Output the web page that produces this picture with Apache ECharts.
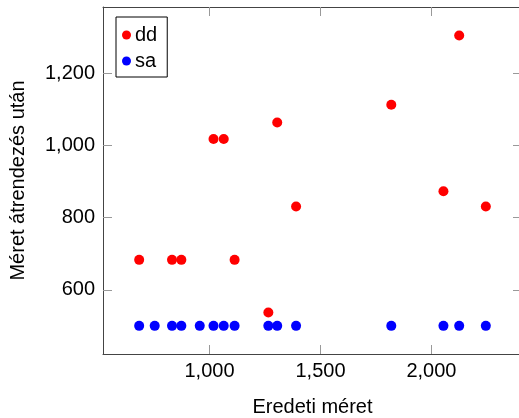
<!DOCTYPE html>
<html>
<head>
<meta charset="utf-8">
<script src="https://cdn.jsdelivr.net/npm/echarts@6/dist/echarts.min.js"></script>
<style>
  html, body { margin: 0; padding: 0; background: #fff; }
  #main { width: 519px; height: 418px; }
</style>
</head>
<body>
<div id="main"></div>
<script>
/* adatok */
var saX = [683, 753, 831, 873, 956, 1018, 1064, 1113, 1265, 1305, 1390, 1819, 2054, 2125, 2245];
var saY = [500, 500, 500, 500, 500, 500, 500, 500, 500, 500, 500, 500, 500, 500, 500];
var ddX = [683, 831, 873, 1018, 1064, 1113, 1265, 1305, 1390, 1819, 2054, 2125, 2245];
var ddY = [683, 683, 683, 1018, 1018, 683, 537, 1064, 831, 1113, 873, 1305, 831];
var xTicks = [1000, 1500, 2000];
var yTicks = [600, 800, 1000, 1200];

function pairs(xs, ys) {
    return xs.map(function (x, i) { return [x, ys[i]]; });
}
function fmt(v) {
    return Number(v).toLocaleString('en-US');
}

var font = 'Liberation Sans';
var lineCol = '#444';
var tickCol = '#999';

var frameX = {
    type: 'value',
    min: 520,
    max: 2408,
    axisLine: { show: true, onZero: false, lineStyle: { color: lineCol, width: 1 } },
    axisTick: { show: true, inside: true, length: 9, customValues: xTicks, lineStyle: { color: tickCol } },
    splitLine: { show: false }
};
var frameY = {
    type: 'value',
    min: 422,
    max: 1384,
    axisLine: { show: true, onZero: false, lineStyle: { color: lineCol, width: 1 } },
    axisTick: { show: true, inside: true, length: 9, customValues: yTicks, lineStyle: { color: tickCol } },
    splitLine: { show: false }
};

var option = {
    animation: false,
    textStyle: { fontFamily: font },
    grid: { left: 103, top: 7, width: 419, bottom: 64, outerBoundsMode: 'none', containLabel: false },
    legend: {
        orient: 'vertical',
        left: 116,
        top: 17,
        padding: [8, 10, 6, 6],
        itemGap: 6,
        itemWidth: 9,
        itemHeight: 9,
        borderColor: '#000',
        borderWidth: 1,
        backgroundColor: '#fff',
        textStyle: { fontFamily: font, fontSize: 20, color: '#000', padding: [0, 0, 0, -1] },
        data: [
            { name: 'dd', icon: 'circle' },
            { name: 'sa', icon: 'circle' }
        ]
    },
    xAxis: [
        Object.assign({}, frameX, {
            position: 'bottom',
            name: 'Eredeti méret',
            nameLocation: 'middle',
            nameGap: 43,
            nameTextStyle: { fontFamily: font, fontSize: 20, color: '#000' },
            axisLabel: {
                show: true, margin: 7, customValues: xTicks,
                fontFamily: font, fontSize: 20, color: '#000',
                formatter: fmt
            }
        }),
        Object.assign({}, frameX, { position: 'top', axisLabel: { show: false } })
    ],
    yAxis: [
        Object.assign({}, frameY, {
            position: 'left',
            name: 'Méret átrendezés után',
            nameLocation: 'middle',
            nameGap: 75,
            nameTextStyle: { fontFamily: font, fontSize: 20, color: '#000' },
            axisLabel: {
                show: true, margin: 8, customValues: yTicks,
                fontFamily: font, fontSize: 20, color: '#000',
                formatter: fmt
            }
        }),
        Object.assign({}, frameY, { position: 'right', axisLabel: { show: false } })
    ],
    series: [
        {
            name: 'dd',
            type: 'scatter',
            symbolSize: 10,
            itemStyle: { color: '#ff0000', opacity: 1 },
            data: pairs(ddX, ddY)
        },
        {
            name: 'sa',
            type: 'scatter',
            symbolSize: 10,
            itemStyle: { color: '#0000ff', opacity: 1 },
            data: pairs(saX, saY)
        }
    ]
};

var chart = echarts.init(document.getElementById('main'));
chart.setOption(option);
</script>
</body>
</html>
